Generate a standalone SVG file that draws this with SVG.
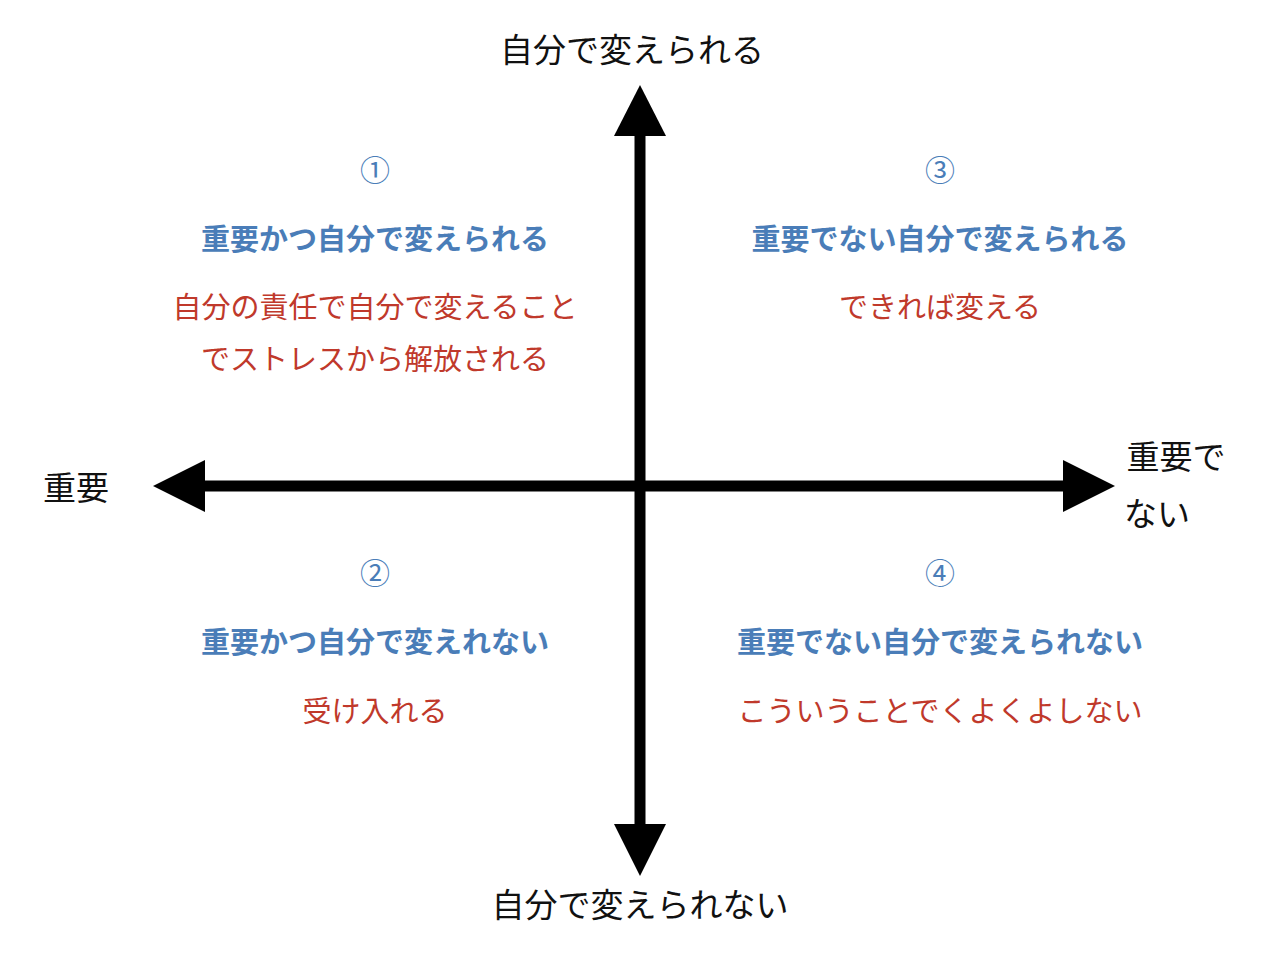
<svg xmlns="http://www.w3.org/2000/svg" width="1280" height="960" viewBox="0 0 1280 960">
<style>
text{font-family:"Noto Sans CJK JP","Noto Sans CJK SC",sans-serif;text-anchor:middle;dominant-baseline:central}
.ax{font-size:33px;fill:#111}
.num{font-size:30px;fill:#4a7db8}
.h{font-size:29px;font-weight:bold;fill:#4a7db8}
.b{font-size:29px;fill:#c0392b}
</style>
<rect width="1280" height="960" fill="#fff"/>
<g id="connectors">
<line x1="640" y1="130" x2="640" y2="830" stroke="#000" stroke-width="11"/>
<line x1="200" y1="486" x2="1070" y2="486" stroke="#000" stroke-width="11"/>
<polygon points="640,85 666,136 614,136" fill="#000"/>
<polygon points="640,876 666,824 614,824" fill="#000"/>
<polygon points="153,486 205,460 205,512" fill="#000"/>
<polygon points="1115,486 1063,460 1063,512" fill="#000"/>
</g>
<g id="axis-labels">
<text class="ax" x="632" y="48">自分で変えられる</text>
<text class="ax" x="640" y="903">自分で変えられない</text>
<text class="ax" x="76" y="486">重要</text>
<text class="ax" x="1176" y="455">重要で</text>
<text class="ax" x="1157" y="512">ない</text>
</g>
<g id="q1">
<text class="num" x="375" y="168">①</text>
<text class="h" x="375" y="237">重要かつ自分で変えられる</text>
<text class="b" x="375" y="305">自分の責任で自分で変えること</text>
<text class="b" x="375" y="357">でストレスから解放される</text>
</g>
<g id="q3">
<text class="num" x="940" y="168">③</text>
<text class="h" x="940" y="237">重要でない自分で変えられる</text>
<text class="b" x="940" y="305">できれば変える</text>
</g>
<g id="q2">
<text class="num" x="375" y="571">②</text>
<text class="h" x="375" y="640">重要かつ自分で変えれない</text>
<text class="b" x="375" y="709">受け入れる</text>
</g>
<g id="q4">
<text class="num" x="940" y="571">④</text>
<text class="h" x="940" y="640">重要でない自分で変えられない</text>
<text class="b" x="940" y="709">こういうことでくよくよしない</text>
</g>
</svg>
